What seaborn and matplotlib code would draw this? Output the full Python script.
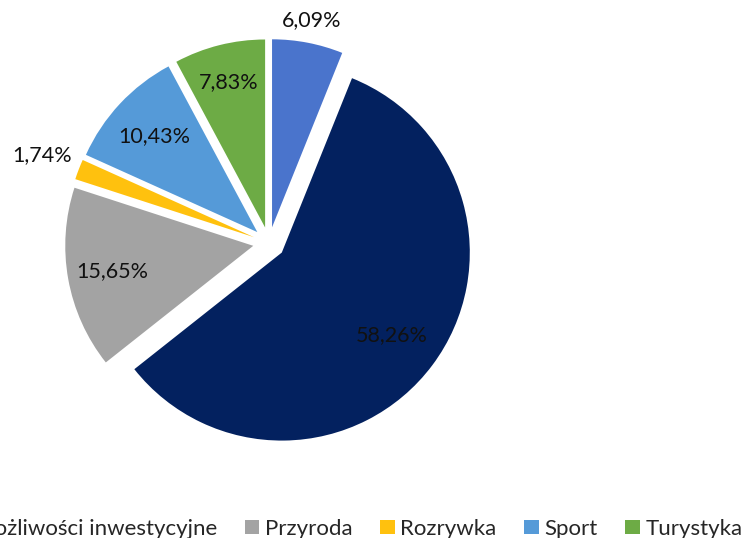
import numpy as np
import matplotlib
matplotlib.use("Agg")
import matplotlib.pyplot as plt
from matplotlib.patches import Patch
import seaborn as sns

categories = ["Kultura", "Możliwości inwestycyjne", "Przyroda", "Rozrywka", "Sport", "Turystyka"]
values = [6.09, 58.26, 15.65, 1.74, 10.43, 7.83]
colors = ["#4a74cc", "#03215f", "#a3a3a3", "#ffc10e", "#559ad8", "#6dab45"]
label_dist = [1.12, 0.73, 0.76, 1.21, 0.75, 0.80]

sns.set_theme(style="white")
plt.rcParams["font.family"] = ["Lato", "DejaVu Sans"]

W, H = 741, 538
fig = plt.figure(figsize=(W / 100, H / 100), dpi=100)
ax = fig.add_axes([0, 0, 1, 1])
ax.axis("off")

explode = [0.085] * len(values)
wedges, _ = ax.pie(values, colors=colors, startangle=90, counterclock=False,
                   explode=explode, wedgeprops=dict(linewidth=0))

for w, v, d, e in zip(wedges, values, label_dist, explode):
    ang = np.deg2rad((w.theta1 + w.theta2) / 2)
    cx, cy = e * np.cos(ang), e * np.sin(ang)
    ax.text(cx + d * np.cos(ang), cy + d * np.sin(ang),
            f"{v:.2f}".replace(".", ",") + "%",
            ha="center", va="center", fontsize=15.5, color="#111111")

# map unit circle radius to 188 px, centre at (269, 243) px from top-left
R = 188.0
cxp, cyp = 269.0, 243.0
ax.set_aspect("auto")
ax.set_xlim(-cxp / R, (W - cxp) / R)
ax.set_ylim(-(H - cyp) / R, cyp / R)

handles = [Patch(facecolor=c, edgecolor="none") for c in colors]
fig.legend(handles, categories, loc="center right", bbox_to_anchor=(1.002, 0.017),
           ncol=6, frameon=False, fontsize=16, handlelength=0.65, handleheight=0.65,
           handletextpad=0.25, columnspacing=1.25, borderaxespad=0, borderpad=0)

fig.savefig("out.png", dpi=100)
